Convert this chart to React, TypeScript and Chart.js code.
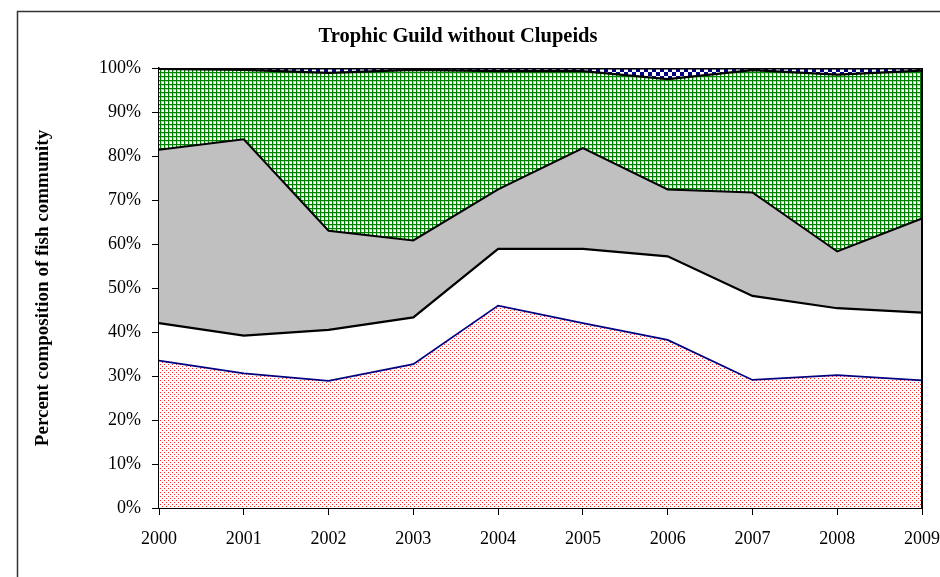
import React, { useEffect, useRef } from "react";
import { Chart, registerables } from "chart.js";

Chart.register(...registerables);

const years = ["2000", "2001", "2002", "2003", "2004", "2005", "2006", "2007", "2008", "2009"];
// Percent composition per guild (stacked, bottom to top)
const guildA = [33.5, 30.6, 28.9, 32.7, 46.0, 42.0, 38.2, 29.1, 30.2, 29.0];
const guildB = [8.5, 8.6, 11.6, 10.6, 12.9, 16.9, 19.0, 19.1, 15.2, 15.4];
const guildC = [39.4, 44.6, 22.5, 17.5, 13.5, 22.9, 15.2, 23.5, 12.9, 21.4];
const guildD = [18.4, 15.8, 35.9, 38.8, 26.9, 17.5, 25.1, 27.8, 40.2, 33.6];
const guildE = [0.2, 0.4, 1.1, 0.4, 0.7, 0.7, 2.5, 0.5, 1.5, 0.6];
const yTicks = [0, 10, 20, 30, 40, 50, 60, 70, 80, 90, 100];

const TITLE = "Trophic Guild without Clupeids";
const Y_TITLE = "Percent composition of fish community";
const FONT = "'Liberation Serif', 'Times New Roman', serif";

function makePattern(size: number, draw: (c: CanvasRenderingContext2D) => void): CanvasPattern | string {
  const cv = document.createElement("canvas");
  cv.width = size;
  cv.height = size;
  const c = cv.getContext("2d");
  if (!c) return "#fff";
  draw(c);
  const p = c.createPattern(cv, "repeat");
  return p || "#fff";
}

export default function App() {
  const ref = useRef<HTMLCanvasElement>(null);

  useEffect(() => {
    if (!ref.current) return;

    const redDots = makePattern(4, (c) => {
      c.fillStyle = "#ffffff";
      c.fillRect(0, 0, 4, 4);
      c.fillStyle = "#ff2020";
      c.fillRect(0, 0, 1, 1);
      c.fillRect(2, 2, 1, 1);
    });
    const greenGrid = makePattern(4, (c) => {
      c.fillStyle = "#ffffff";
      c.fillRect(0, 0, 4, 4);
      c.fillStyle = "#b3d9b3";
      c.fillRect(0, 1, 4, 1);
      c.fillRect(1, 0, 1, 4);
      c.fillStyle = "#008000";
      c.fillRect(0, 0, 4, 1);
      c.fillRect(0, 0, 1, 4);
    });
    const navyCheck = makePattern(8, (c) => {
      c.fillStyle = "#ffffff";
      c.fillRect(0, 0, 8, 8);
      c.fillStyle = "#000080";
      c.fillRect(0, 0, 4, 4);
      c.fillRect(4, 4, 4, 4);
    });

    const frame = {
      id: "frame",
      beforeDraw(chart: any) {
        const ctx = chart.ctx;
        ctx.save();
        ctx.fillStyle = "#ffffff";
        ctx.fillRect(0, 0, chart.width, chart.height);
        ctx.strokeStyle = "#333333";
        ctx.lineWidth = 1.5;
        ctx.strokeRect(17.5, 11.5, 1000, 700);
        ctx.restore();
      },
      afterDraw(chart: any) {
        const ctx = chart.ctx;
        const a = chart.chartArea;
        ctx.save();
        ctx.strokeStyle = "#000000";
        ctx.lineWidth = 2;
        ctx.beginPath();
        ctx.moveTo(a.right, a.top);
        ctx.lineTo(a.right, a.bottom);
        ctx.stroke();
        ctx.fillStyle = "#000000";
        ctx.textAlign = "center";
        ctx.textBaseline = "middle";
        ctx.font = "bold 20.5px " + FONT;
        ctx.fillText(TITLE, 458, 37);
        ctx.translate(43, (a.top + a.bottom) / 2);
        ctx.rotate(-Math.PI / 2);
        ctx.font = "bold 19px " + FONT;
        ctx.fillText(Y_TITLE, 0, 0);
        ctx.restore();
      },
    };

    const chart = new Chart(ref.current, {
      type: "line",
      data: {
        labels: years,
        datasets: [
          { label: "A", data: guildA, fill: "origin", backgroundColor: redDots as any, borderColor: "#000080", borderWidth: 1.75, pointRadius: 0, tension: 0 },
          { label: "B", data: guildB, fill: "-1", backgroundColor: "#ffffff", borderColor: "#000000", borderWidth: 2.25, pointRadius: 0, tension: 0 },
          { label: "C", data: guildC, fill: "-1", backgroundColor: "#c0c0c0", borderColor: "#000000", borderWidth: 2, pointRadius: 0, tension: 0 },
          { label: "D", data: guildD, fill: "-1", backgroundColor: greenGrid as any, borderColor: "#000000", borderWidth: 2.25, pointRadius: 0, tension: 0 },
          { label: "E", data: guildE, fill: "-1", backgroundColor: navyCheck as any, borderColor: "#000000", borderWidth: 3, pointRadius: 0, tension: 0 },
        ],
      },
      options: {
        responsive: false,
        animation: false,
        devicePixelRatio: 1,
        layout: { padding: { top: 68, right: 18, left: 0, bottom: 0 } },
        plugins: { legend: { display: false }, title: { display: false }, tooltip: { enabled: false }, filler: { propagate: false } },
        scales: {
          x: {
            type: "category",
            offset: false,
            grid: { display: true, drawOnChartArea: false, drawTicks: true, tickLength: 7, color: "#000000", lineWidth: 1 },
            border: { display: true, color: "#000000", width: 2 },
            ticks: { color: "#000000", font: { family: FONT, size: 18 }, padding: 13, maxRotation: 0, autoSkip: false },
            afterFit: (s: any) => { s.height = 69; s.paddingLeft = 0; s.paddingRight = 0; },
          },
          y: {
            stacked: true,
            min: 0,
            max: 100,
            afterBuildTicks: (s: any) => { s.ticks = yTicks.map((v) => ({ value: v })); },
            grid: { display: true, drawOnChartArea: false, drawTicks: true, tickLength: 7, color: "#000000", lineWidth: 1 },
            border: { display: true, color: "#000000", width: 1.5 },
            ticks: { color: "#000000", font: { family: FONT, size: 18 }, padding: 11, callback: (v: any) => v + "%" },
            afterFit: (s: any) => { s.width = 159; s.paddingTop = 0; s.paddingBottom = 0; },
          },
        },
      },
      plugins: [frame],
    });
    return () => chart.destroy();
  }, []);

  return (
    <div style={{ position: "absolute", left: 0, top: 0, width: 940, height: 577, background: "#fff" }}>
      <canvas ref={ref} width={940} height={577} style={{ display: "block", width: 940, height: 577 }} />
    </div>
  );
}
